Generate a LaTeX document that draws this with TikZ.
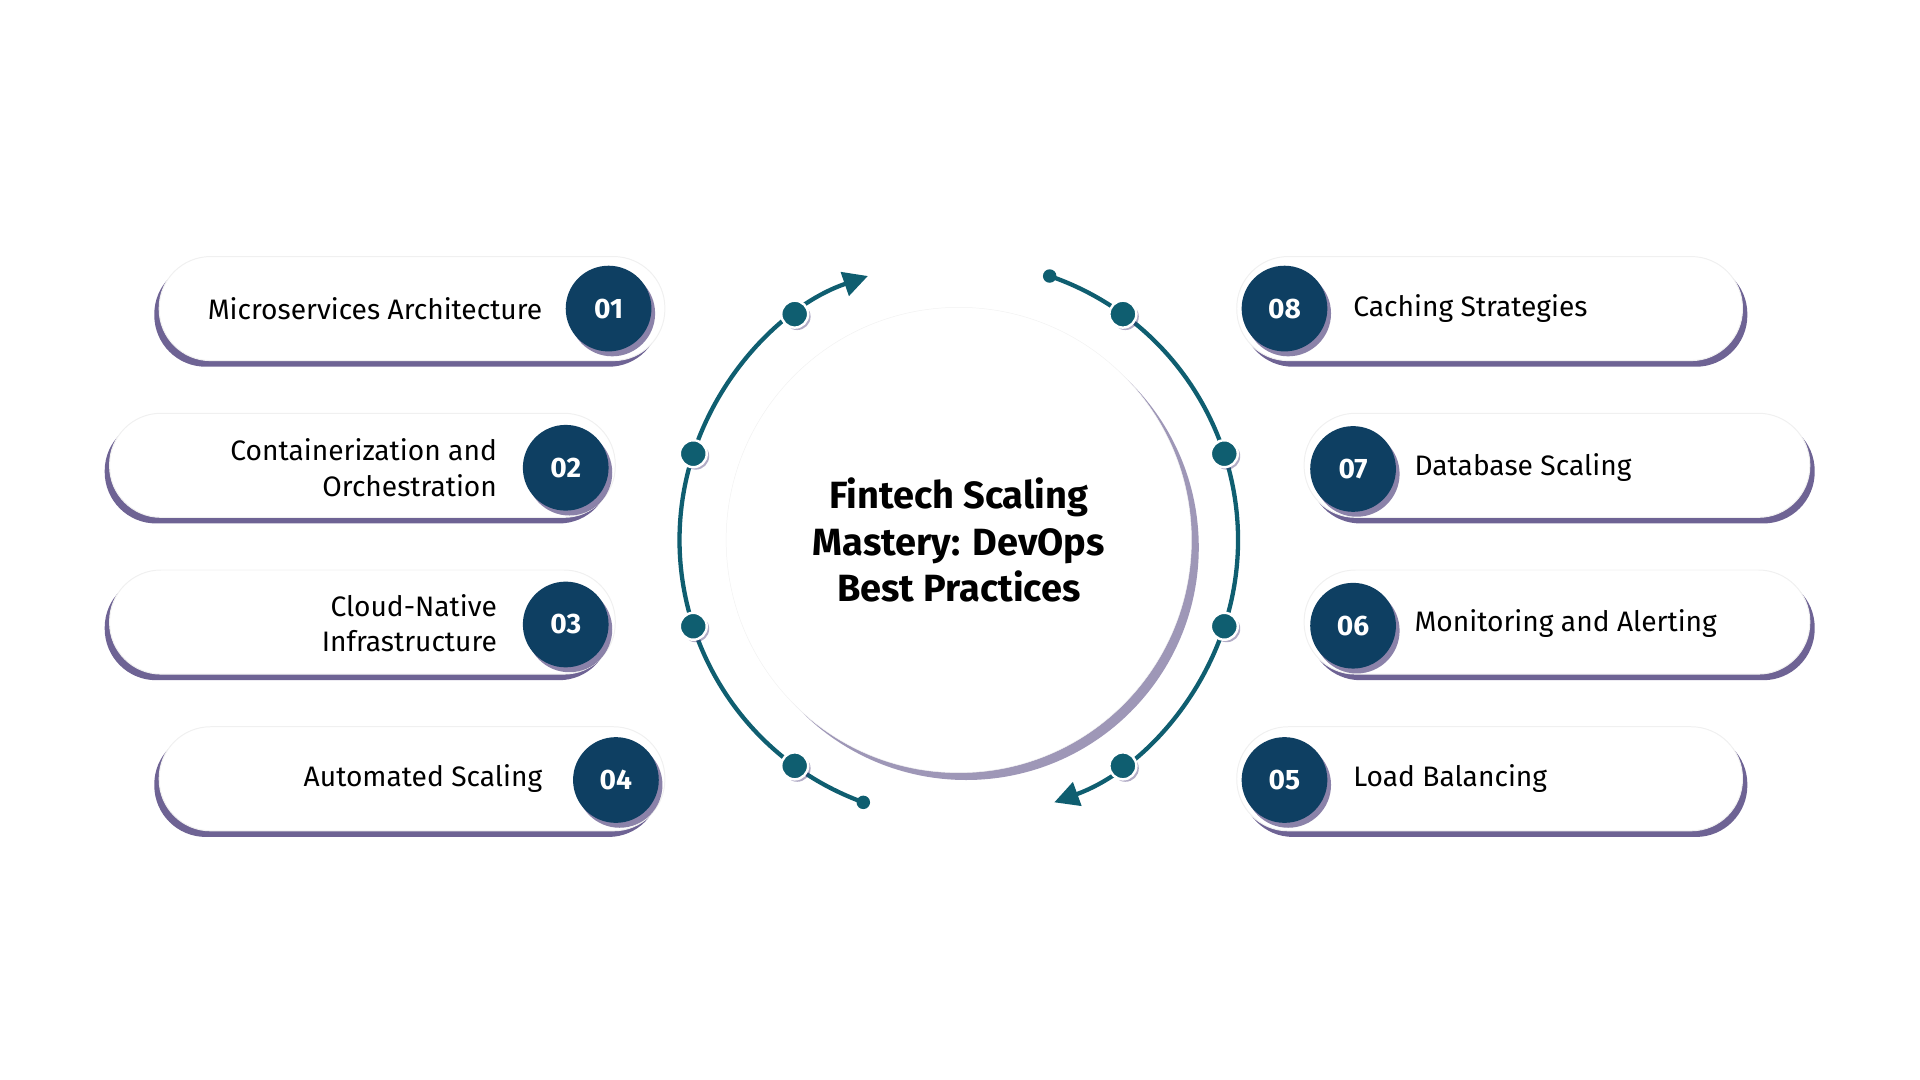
\documentclass[tikz,border=0pt]{standalone}
\usepackage{fontspec}
\setmainfont{Fira Sans}
\usetikzlibrary{positioning,calc,arrows.meta,shadows}
\definecolor{navy}{HTML}{0E3F62}
\definecolor{tealline}{HTML}{0F5E70}
\definecolor{shadowc}{HTML}{3E2F70}
\tikzset{
  pill/.style={draw=gray!12, fill=white, rounded corners=42pt, minimum width=413pt,
    minimum height=85pt, line width=0.8pt},
  pillshadowl/.style={drop shadow={shadow xshift=-4pt, shadow yshift=-5pt, fill=shadowc, opacity=0.75}},
  pillshadowr/.style={drop shadow={shadow xshift=4pt, shadow yshift=-5pt, fill=shadowc, opacity=0.75}},
  numdot/.style={circle, fill=navy, minimum size=70pt, inner sep=0pt, text=white,
    font=\fontsize{23}{26}\selectfont\bfseries,
    drop shadow={shadow xshift=3pt, shadow yshift=-4pt, fill=shadowc, opacity=0.6}},
  pilltext/.style={font=\fontsize{23}{29}\selectfont, inner sep=0pt},
  arcline/.style={tealline, line width=3.5pt},
  arcarrow/.style={arcline, -{Triangle[length=20pt, width=20pt]}},
  arcdot/.style={circle, fill=tealline, draw=white, line width=2pt, minimum size=22pt,
    inner sep=0pt, drop shadow={shadow xshift=2pt, shadow yshift=-2pt, fill=shadowc, opacity=0.4}},
  enddot/.style={circle, fill=tealline, minimum size=11pt, inner sep=0pt},
}
\begin{document}
\begin{tikzpicture}[x=1pt, y=1pt]
  \useasboundingbox (0,0) rectangle (1568,-882);

  % centre disc
  \coordinate (C) at (783,-441);
  \node[circle, fill=white, draw=gray!10, minimum size=380pt,
    drop shadow={shadow xshift=6pt, shadow yshift=-6pt, fill=shadowc, opacity=0.5}] (hub) at (C) {};
  \node[font=\fontsize{31}{38}\selectfont\bfseries, align=center] (title) at (C)
    {Fintech Scaling\\Mastery: DevOps\\Best Practices};

  % arcs around the disc
  \draw[arcarrow] ($(C)+(250:228)$) arc[start angle=250, end angle=109, radius=228];
  \draw[arcarrow] ($(C)+(71:228)$) arc[start angle=71, end angle=-70, radius=228];
  \node[enddot] (el) at ($(C)+(250:228)$) {};
  \node[enddot] (er) at ($(C)+(71:228)$) {};
  \node[arcdot] (a1) at ($(C)+(126:228)$) {};
  \node[arcdot] (a2) at ($(C)+(162:228)$) {};
  \node[arcdot] (a3) at ($(C)+(198:228)$) {};
  \node[arcdot] (a4) at ($(C)+(234:228)$) {};
  \node[arcdot] (a5) at ($(C)+(-54:228)$) {};
  \node[arcdot] (a6) at ($(C)+(-18:228)$) {};
  \node[arcdot] (a7) at ($(C)+(18:228)$) {};
  \node[arcdot] (a8) at ($(C)+(54:228)$) {};

  % left pills
  \node[pill, pillshadowl] (p1) at (336.5,-252) {};
  \node[numdot] (n1) at (497,-252) {01};
  \node[pilltext, anchor=east] (t1) at (443,-252) {Microservices Architecture};
  \node[pill, pillshadowl] (p2) at (296,-380) {};
  \node[numdot] (n2) at (462,-382) {02};
  \node[pilltext, anchor=east, align=right] (t2) at (406,-382) {Containerization and\\Orchestration};
  \node[pill, pillshadowl] (p3) at (296,-508) {};
  \node[numdot] (n3) at (462,-510) {03};
  \node[pilltext, anchor=east, align=right] (t3) at (406,-509) {Cloud-Native\\Infrastructure};
  \node[pill, pillshadowl] (p4) at (336.5,-636) {};
  \node[numdot] (n4) at (503,-637) {04};
  \node[pilltext, anchor=east] (t4) at (443,-636) {Automated Scaling};

  % right pills
  \node[pill, pillshadowr] (p8) at (1216.5,-252) {};
  \node[numdot] (n8) at (1049,-252) {08};
  \node[pilltext, anchor=west] (t8) at (1105,-252) {Caching Strategies};
  \node[pill, pillshadowr] (p7) at (1271.5,-380) {};
  \node[numdot] (n7) at (1105,-383) {07};
  \node[pilltext, anchor=west] (t7) at (1155,-382) {Database Scaling};
  \node[pill, pillshadowr] (p6) at (1271.5,-508) {};
  \node[numdot] (n6) at (1105,-511) {06};
  \node[pilltext, anchor=west] (t6) at (1155,-509) {Monitoring and Alerting};
  \node[pill, pillshadowr] (p5) at (1216.5,-636) {};
  \node[numdot] (n5) at (1049,-637) {05};
  \node[pilltext, anchor=west] (t5) at (1105,-636) {Load Balancing};
\end{tikzpicture}
\end{document}
